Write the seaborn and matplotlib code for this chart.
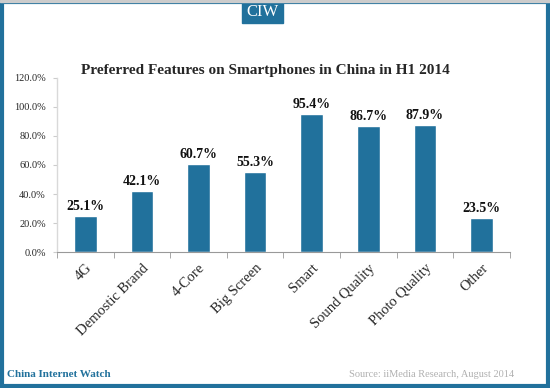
import numpy as np
import pandas as pd
import seaborn as sns
import matplotlib.pyplot as plt
from matplotlib.patches import Rectangle
from matplotlib.ticker import FixedLocator, PercentFormatter

categories = ['4G', 'Demostic Brand', '4-Core', 'Big Screen', 'Smart',
              'Sound Quality', 'Photo Quality', 'Other']
shares = [25.1, 42.1, 60.7, 55.3, 95.4, 86.7, 87.9, 23.5]
y_ticks = [0, 20, 40, 60, 80, 100, 120]

BLUE = '#21719c'
SERIF = ['Liberation Serif', 'DejaVu Serif']


def make_chart():
    sns.set_style('white')
    plt.rcParams['font.family'] = SERIF

    df = pd.DataFrame({'Feature': categories, 'Share': shares})

    fig = plt.figure(figsize=(5.5, 3.88), dpi=100)
    ax = fig.add_axes([0.1036, 0.3505, 0.8234, 0.4485])
    sns.barplot(data=df, x='Feature', y='Share', color=BLUE, width=0.4,
                saturation=1, ax=ax)

    for i, v in enumerate(shares):
        ax.text(i, v + 2, f'{v:.1f}%', ha='center', va='bottom',
                fontsize=10, fontweight='bold', color='#111111')

    ax.set_xlim(-0.5, len(categories) - 0.5)
    ax.set_ylim(0, 120)
    ax.set_yticks(y_ticks)
    ax.yaxis.set_major_formatter(PercentFormatter(decimals=1))
    ax.set_xlabel('')
    ax.set_ylabel('')
    ax.set_xticks(range(len(categories)))
    ax.set_xticklabels(categories, rotation=45, ha='right',
                       rotation_mode='anchor', fontsize=10.5)
    ax.xaxis.set_minor_locator(FixedLocator(np.arange(-0.5, len(categories), 1)))
    ax.tick_params(axis='x', which='major', length=0, pad=7)
    ax.tick_params(axis='x', which='minor', length=4, color='#999999',
                   direction='out', bottom=True)
    ax.tick_params(axis='y', length=3, color='#cccccc', labelsize=7.5,
                   left=True, pad=5)

    sns.despine(ax=ax, top=True, right=True)
    ax.spines['left'].set_color('#d9d9d9')
    ax.spines['bottom'].set_color('#999999')
    ax.spines['left'].set_linewidth(1)
    ax.spines['bottom'].set_linewidth(0.8)

    fig.text(0.482, 0.818, 'Preferred Features on Smartphones in China in H1 2014',
             ha='center', va='center', fontsize=11, fontweight='bold')

    # header badge
    fig.patches.append(Rectangle((0.44, 0.94), 0.075, 0.06,
                                 transform=fig.transFigure, color=BLUE,
                                 zorder=0))
    fig.text(0.4775, 0.968, 'CIW', ha='center', va='center', fontsize=12,
             color='white')

    # footer
    fig.text(0.012, 0.035, 'China Internet Watch', ha='left', va='center',
             fontsize=8, fontweight='bold', color=BLUE)
    fig.text(0.935, 0.035, 'Source: iiMedia Research, August 2014',
             ha='right', va='center', fontsize=7.5, color='#b0b0b0')

    # frame
    fig.patches.append(Rectangle((0.003, 0.004), 0.993, 0.99,
                                 transform=fig.transFigure, fill=False,
                                 edgecolor=BLUE, linewidth=3))
    fig.patches.append(Rectangle((0, 0.995), 1, 0.005,
                                 transform=fig.transFigure, color='#cccccc'))
    return fig


if __name__ == '__main__':
    fig = make_chart()
    fig.savefig('out.png', dpi=100)
    plt.close(fig)
